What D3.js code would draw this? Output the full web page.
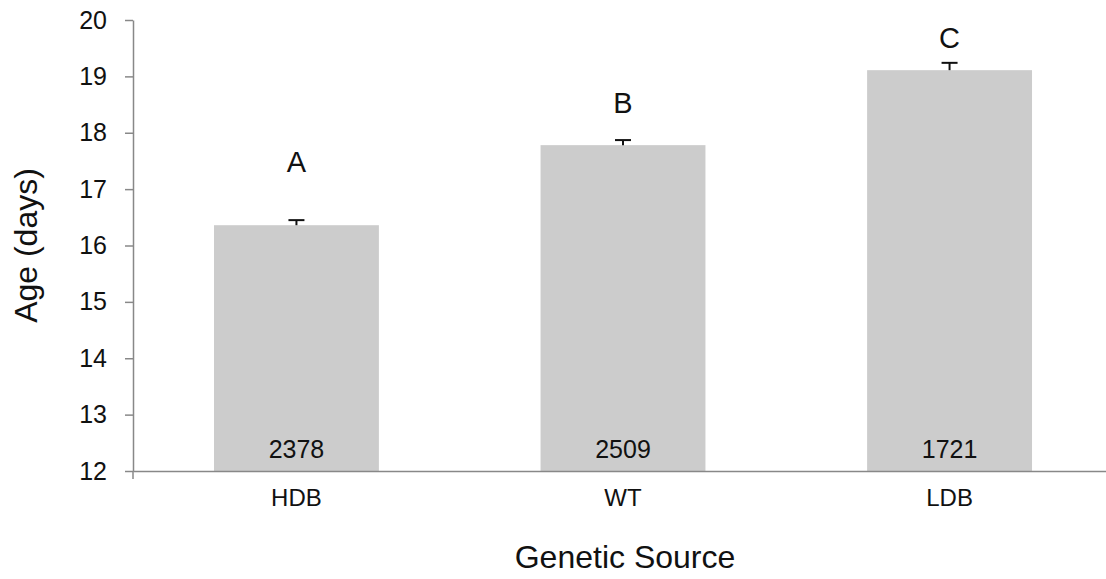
<!DOCTYPE html>
<html>
<head>
<meta charset="utf-8">
<script src="https://cdn.jsdelivr.net/npm/d3@7"></script>
<style>
  body { margin: 0; background: #fff; }
  text { font-family: "Liberation Sans", Arial, sans-serif; fill: #111; }
</style>
</head>
<body>
<div id="chart"></div>
<script>
// Chart data
const categories = ["HDB", "WT", "LDB"];
const meanAge = [16.36, 17.78, 19.11];
const stdError = [0.09, 0.09, 0.13];
const sampleSize = [2378, 2509, 1721];
const groupLetters = ["A", "B", "C"];
const letterLevel = [17.3, 18.35, 19.5];   // where the letters sit, in days
const yTicks = [12, 13, 14, 15, 16, 17, 18, 19, 20];

const width = 1106, height = 579;
const margin = { top: 20, right: 0, bottom: 108, left: 133 };

const svg = d3.select("#chart").append("svg")
    .attr("width", width)
    .attr("height", height);

const x = d3.scaleBand()
    .domain(categories)
    .range([margin.left, 1113])
    .paddingInner(0.495)
    .paddingOuter(0.248);

const y = d3.scaleLinear()
    .domain([12, 20])
    .range([height - margin.bottom, margin.top]);

const data = categories.map((c, i) => ({
    cat: c, mean: meanAge[i], se: stdError[i], n: sampleSize[i],
    letter: groupLetters[i], ly: letterLevel[i]
}));

// Bars
svg.append("g")
    .selectAll("rect")
    .data(data)
    .enter().append("rect")
    .attr("x", d => x(d.cat))
    .attr("y", d => y(d.mean))
    .attr("width", x.bandwidth())
    .attr("height", d => y(12) - y(d.mean))
    .attr("fill", "#cccccc");

// Error bars (upper only)
const err = svg.append("g").attr("stroke", "#111").attr("stroke-width", 2);
err.selectAll("line.v")
    .data(data)
    .enter().append("line")
    .attr("class", "v")
    .attr("x1", d => x(d.cat) + x.bandwidth() / 2)
    .attr("x2", d => x(d.cat) + x.bandwidth() / 2)
    .attr("y1", d => y(d.mean))
    .attr("y2", d => y(d.mean + d.se));
err.selectAll("line.cap")
    .data(data)
    .enter().append("line")
    .attr("class", "cap")
    .attr("x1", d => x(d.cat) + x.bandwidth() / 2 - 8)
    .attr("x2", d => x(d.cat) + x.bandwidth() / 2 + 8)
    .attr("y1", d => y(d.mean + d.se))
    .attr("y2", d => y(d.mean + d.se));

// Y axis
const yAxis = svg.append("g")
    .attr("transform", `translate(${margin.left},0)`)
    .call(d3.axisLeft(y).tickValues(yTicks).tickSize(8).tickPadding(18).tickSizeOuter(0));
yAxis.select(".domain").attr("stroke", "#888").attr("stroke-width", 1.5);
yAxis.selectAll(".tick line").attr("stroke", "#888").attr("stroke-width", 1.5);
yAxis.selectAll(".tick text")
    .style("font-size", "25px")
    .attr("fill", "#111");

// X axis
const xAxis = svg.append("g")
    .attr("transform", `translate(0,${y(12)})`)
    .call(d3.axisBottom(x).tickSize(0).tickPadding(18).tickSizeOuter(0));
xAxis.select(".domain").attr("stroke", "#888").attr("stroke-width", 1.5);
xAxis.selectAll(".tick text")
    .style("font-size", "24px")
    .attr("fill", "#111");
xAxis.append("line")
    .attr("x1", margin.left).attr("x2", margin.left)
    .attr("y1", 0).attr("y2", 8)
    .attr("stroke", "#888").attr("stroke-width", 1.5);

// Sample sizes inside bars
svg.append("g")
    .selectAll("text")
    .data(data)
    .enter().append("text")
    .attr("x", d => x(d.cat) + x.bandwidth() / 2)
    .attr("y", y(12) - 13)
    .attr("text-anchor", "middle")
    .style("font-size", "25px")
    .text(d => d.n);

// Group letters
svg.append("g")
    .selectAll("text")
    .data(data)
    .enter().append("text")
    .attr("x", d => x(d.cat) + x.bandwidth() / 2)
    .attr("y", d => y(d.ly))
    .attr("text-anchor", "middle")
    .style("font-size", "29px")
    .text(d => d.letter);

// Axis titles
svg.append("text")
    .attr("transform", `translate(37,${(y(12) + y(20)) / 2}) rotate(-90)`)
    .attr("text-anchor", "middle")
    .style("font-size", "32px")
    .text("Age (days)");

svg.append("text")
    .attr("x", 625)
    .attr("y", 568)
    .attr("text-anchor", "middle")
    .style("font-size", "32px")
    .text("Genetic Source");
</script>
</body>
</html>
